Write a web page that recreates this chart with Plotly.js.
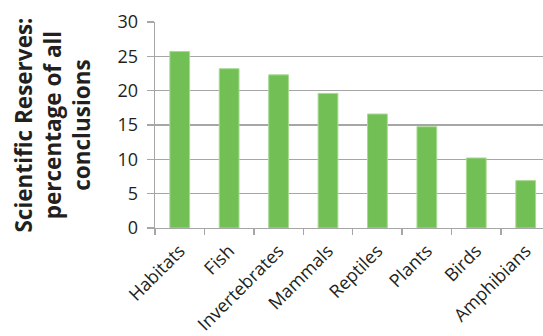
<!DOCTYPE html>
<html>
<head>
<meta charset="utf-8">
<script src="https://cdn.plot.ly/plotly-3.0.1.min.js"></script>
<style>html,body{margin:0;padding:0;overflow:hidden;background:#fff}</style>
</head>
<body>
<div id="chart" style="width:543px;height:336px"></div>
<script>
const categories = ["Habitats", "Fish", "Invertebrates", "Mammals", "Reptiles", "Plants", "Birds", "Amphibians"];
const percentages = [25.7, 23.2, 22.3, 19.6, 16.6, 14.75, 10.2, 6.9];
const yTickValues = [0, 5, 10, 15, 20, 25, 30];
const yTitle = "Scientific Reserves:<br>percentage of all<br>conclusions";

const trace = {
  type: "bar",
  x: categories,
  y: percentages,
  marker: {color: "#72bf56", line: {color: "#a9da93", width: 1}},
  hoverinfo: "x+y"
};

const layout = {
  width: 543,
  height: 336,
  margin: {l: 155, r: 0, t: 22, b: 108},
  paper_bgcolor: "#ffffff",
  plot_bgcolor: "#ffffff",
  font: {family: "Open Sans, sans-serif", color: "#231f20"},
  bargap: 0.6,
  showlegend: false,
  xaxis: {
    range: [-0.5, 7.35],
    tickangle: -45,
    tickfont: {size: 18, color: "#231f20"},
    showline: true,
    linecolor: "#a6a6a6",
    linewidth: 1.3,
    ticks: "outside",
    ticklen: 6,
    tickcolor: "#a6a6a6",
    tickwidth: 1.3,
    tickson: "boundaries",
    ticklabelstandoff: 4,
    showgrid: false,
    zeroline: false,
    fixedrange: true
  },
  yaxis: {
    range: [0, 30],
    tickvals: yTickValues,
    tickfont: {size: 18, color: "#231f20"},
    showline: true,
    linecolor: "#a6a6a6",
    linewidth: 1.3,
    ticks: "outside",
    ticklen: 7,
    tickcolor: "#a6a6a6",
    tickwidth: 1.3,
    showgrid: true,
    gridcolor: "#a6a6a6",
    gridwidth: 1.3,
    zeroline: false,
    ticklabelstandoff: 5,
    title: {text: yTitle, font: {size: 22.5, color: "#231f20", weight: "bold"}, standoff: 20},
    fixedrange: true
  }
};

Plotly.newPlot("chart", [trace], layout, {displayModeBar: false, staticPlot: true});
</script>
</body>
</html>
